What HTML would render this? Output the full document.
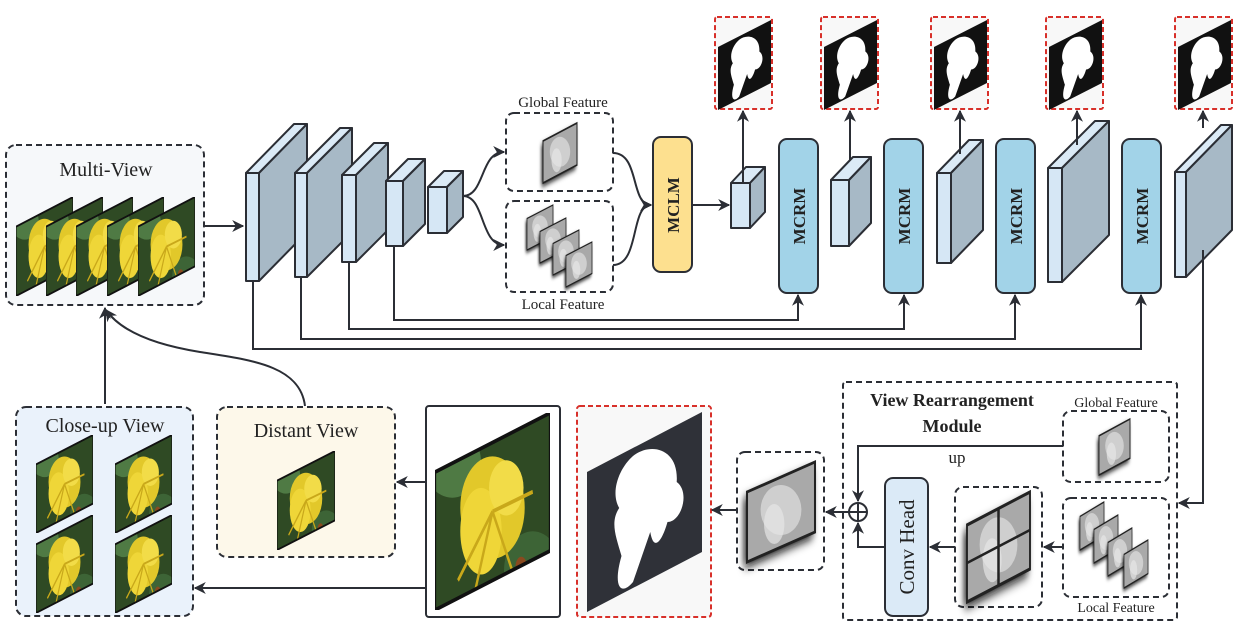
<!DOCTYPE html>
<html><head><meta charset="utf-8"><style>
html,body{margin:0;padding:0;background:#fff;}
svg{display:block;}
text{font-family:"Liberation Serif",serif;fill:#222;}
</style></head><body>
<svg width="1236" height="636" viewBox="0 0 1236 636" xmlns="http://www.w3.org/2000/svg">
<defs>
<marker id="ar" viewBox="0 0 10 10" refX="9" refY="5" markerWidth="6" markerHeight="6" orient="auto"><path d="M0,0 L10,5 L0,10 L3,5 z" fill="#2b2e35"/></marker>
<filter id="bl" x="-50%" y="-50%" width="200%" height="200%"><feGaussianBlur stdDeviation="5"/></filter>
<clipPath id="pc"><polygon points="0,30 100,0 100,70 0,100"/></clipPath>
<symbol id="photo" viewBox="0 0 100 100" preserveAspectRatio="none">
 <g clip-path="url(#pc)">
  <rect width="100" height="100" fill="#2f4a24"/>
  <ellipse cx="15" cy="25" rx="25" ry="18" fill="#4f7a44"/>
  <ellipse cx="85" cy="80" rx="25" ry="20" fill="#3d6436"/>
  <ellipse cx="50" cy="48" rx="28" ry="26" fill="#e2c82a"/>
  <ellipse cx="40" cy="60" rx="18" ry="22" fill="#efd638"/>
  <ellipse cx="62" cy="38" rx="15" ry="14" fill="#f2dc48"/>
  <path d="M50,50 L20,85 M50,50 L35,90 M50,50 L70,85 M50,50 L85,40" stroke="#c9a81a" stroke-width="2"/>
  <circle cx="75" cy="78" r="5" fill="#8a4a1f"/>
 </g>
 <polygon points="0,30 100,0 100,70 0,100" fill="none" stroke="#111" stroke-width="2"/>
</symbol>
<symbol id="mask" viewBox="0 0 100 100" preserveAspectRatio="none">
 <polygon points="0,30 100,0 100,70 0,100" fill="#111"/>
 <path d="M40,22 C55,15 80,18 78,35 C90,40 82,55 70,55 C65,65 58,70 55,60 L40,85 C30,92 22,88 30,72 C25,62 20,55 28,48 C20,40 28,28 40,22z" fill="#fff"/>
</symbol>
<symbol id="maskd" viewBox="0 0 100 100" preserveAspectRatio="none">
 <polygon points="0,30 100,0 100,70 0,100" fill="#2f3138"/>
 <path d="M40,22 C55,15 80,18 78,35 C90,40 82,55 70,55 C65,65 58,70 55,60 L40,85 C30,92 22,88 30,72 C25,62 20,55 28,48 C20,40 28,28 40,22z" fill="#fff"/>
</symbol>
<symbol id="feat" viewBox="0 0 100 100" preserveAspectRatio="none" overflow="visible">
 <polygon points="-4,36 96,6 96,76 -4,106" fill="#111" filter="url(#bl)"/>
 <polygon points="0,30 100,0 100,70 0,100" fill="#a9a9a9" stroke="#222" stroke-width="3"/>
 <ellipse cx="50" cy="48" rx="30" ry="25" fill="#d8d8d8" opacity="0.8"/>
 <ellipse cx="40" cy="62" rx="15" ry="20" fill="#e6e6e6" opacity="0.7"/>
</symbol>
</defs>

<g stroke="#2b2e35" stroke-width="2" fill="none">
<rect x="6" y="145" width="198" height="160" rx="10" fill="#f6f8fa" stroke-dasharray="6,4"/>
<rect x="16" y="407" width="177" height="209" rx="10" fill="#eaf2fb" stroke-dasharray="6,4"/>
<rect x="217" y="407" width="178" height="150" rx="10" fill="#fdf8ea" stroke-dasharray="6,4"/>
<rect x="426" y="406" width="134" height="211" rx="3" fill="#fff"/>
<rect x="577" y="406" width="134" height="211" rx="3" fill="#f8f8f8" stroke="#d8302a" stroke-dasharray="5,3"/>
<rect x="737" y="452" width="87" height="118" rx="8" fill="#fff" stroke-dasharray="6,4"/>
<rect x="843" y="382" width="334" height="238" rx="3" fill="#fff" stroke-dasharray="6,4"/>
<rect x="1063" y="411" width="106" height="71" rx="8" stroke-dasharray="6,4"/>
<rect x="1063" y="498" width="106" height="99" rx="8" stroke-dasharray="6,4"/>
<rect x="955" y="487" width="87" height="120" rx="8" stroke-dasharray="6,4"/>
<rect x="506" y="113" width="107" height="78" rx="8" stroke-dasharray="6,4"/>
<rect x="506" y="201" width="107" height="91" rx="8" stroke-dasharray="6,4"/>
<g stroke="#d8302a" stroke-dasharray="5,3" fill="#f8f8f8">
<rect x="715" y="17" width="57" height="92" rx="2"/>
<rect x="821" y="17" width="57" height="92" rx="2"/>
<rect x="931" y="17" width="57" height="92" rx="2"/>
<rect x="1046" y="17" width="57" height="92" rx="2"/>
<rect x="1175" y="17" width="57" height="92" rx="2"/>
</g>
</g>

<use href="#photo" x="16" y="197" width="57" height="99"/>
<use href="#photo" x="46" y="197" width="57" height="99"/>
<use href="#photo" x="76" y="197" width="57" height="99"/>
<use href="#photo" x="107" y="197" width="57" height="99"/>
<use href="#photo" x="138" y="197" width="57" height="99"/>
<use href="#photo" x="36" y="435" width="57" height="98"/>
<use href="#photo" x="115" y="435" width="57" height="98"/>
<use href="#photo" x="36" y="515" width="57" height="98"/>
<use href="#photo" x="115" y="515" width="57" height="98"/>
<use href="#photo" x="277" y="451" width="58" height="99"/>
<use href="#photo" x="435" y="413" width="115" height="197"/>
<use href="#maskd" x="587" y="412" width="115" height="200"/>
<use href="#mask" x="718" y="20" width="53" height="90"/>
<use href="#mask" x="824" y="20" width="53" height="90"/>
<use href="#mask" x="934" y="20" width="53" height="90"/>
<use href="#mask" x="1049" y="20" width="53" height="90"/>
<use href="#mask" x="1178" y="20" width="53" height="90"/>

<use href="#feat" x="543" y="123" width="34" height="60"/>
<use href="#feat" x="527" y="205" width="26" height="45"/>
<use href="#feat" x="540" y="218" width="26" height="45"/>
<use href="#feat" x="553" y="230" width="26" height="45"/>
<use href="#feat" x="566" y="242" width="26" height="45"/>
<use href="#feat" x="1099" y="419" width="31" height="56"/>
<use href="#feat" x="1080" y="502" width="24" height="48"/>
<use href="#feat" x="1094" y="515" width="24" height="48"/>
<use href="#feat" x="1108" y="528" width="24" height="48"/>
<use href="#feat" x="1124" y="540" width="24" height="48"/>
<use href="#feat" x="747" y="462" width="68" height="100"/>
<use href="#feat" x="967" y="492" width="63" height="110"/>
<path d="M967,563 L1030,530 M998.5,508 L998.5,586" stroke="#222" stroke-width="2.5"/>

<g stroke="#2b2e35" stroke-width="2" stroke-linejoin="round">
<polygon points="246,173 294,124 307,124 259,173" fill="#dbeaf6"/><polygon points="259,173 307,124 307,232 259,281" fill="#a7b9c6"/><rect x="246" y="173" width="13" height="108" fill="#d6e7f5"/>
<polygon points="295,173 340,128 352,128 307,173" fill="#dbeaf6"/><polygon points="307,173 352,128 352,232 307,277" fill="#a7b9c6"/><rect x="295" y="173" width="12" height="104" fill="#d6e7f5"/>
<polygon points="342,175 374,143 388,143 356,175" fill="#dbeaf6"/><polygon points="356,175 388,143 388,230 356,262" fill="#a7b9c6"/><rect x="342" y="175" width="14" height="87" fill="#d6e7f5"/>
<polygon points="386,181 408,159 425,159 403,181" fill="#dbeaf6"/><polygon points="403,181 425,159 425,224 403,246" fill="#a7b9c6"/><rect x="386" y="181" width="17" height="65" fill="#d6e7f5"/>
<polygon points="428,187 444,171 463,171 447,187" fill="#dbeaf6"/><polygon points="447,187 463,171 463,217 447,233" fill="#a7b9c6"/><rect x="428" y="187" width="19" height="46" fill="#d6e7f5"/>
<polygon points="731,183 746,167 765,167 750,183" fill="#dbeaf6"/><polygon points="750,183 765,167 765,212 750,228" fill="#a7b9c6"/><rect x="731" y="183" width="19" height="45" fill="#d6e7f5"/>
<polygon points="831,180 853,157 871,157 849,180" fill="#dbeaf6"/><polygon points="849,180 871,157 871,223 849,246" fill="#a7b9c6"/><rect x="831" y="180" width="18" height="66" fill="#d6e7f5"/>
<polygon points="937,173 969,140 983,140 951,173" fill="#dbeaf6"/><polygon points="951,173 983,140 983,230 951,263" fill="#a7b9c6"/><rect x="937" y="173" width="14" height="90" fill="#d6e7f5"/>
<polygon points="1048,168 1095,121 1109,121 1062,168" fill="#dbeaf6"/><polygon points="1062,168 1109,121 1109,235 1062,282" fill="#a7b9c6"/><rect x="1048" y="168" width="14" height="114" fill="#d6e7f5"/>
<polygon points="1175,172 1221,125 1232,125 1186,172" fill="#dbeaf6"/><polygon points="1186,172 1232,125 1232,230 1186,277" fill="#a7b9c6"/><rect x="1175" y="172" width="11" height="105" fill="#d6e7f5"/>
<rect x="653" y="137" width="39" height="135" rx="8" fill="#fde08f"/>
<rect x="779" y="139" width="39" height="154" rx="8" fill="#a2d3e8"/>
<rect x="884" y="139" width="39" height="154" rx="8" fill="#a2d3e8"/>
<rect x="996" y="139" width="39" height="154" rx="8" fill="#a2d3e8"/>
<rect x="1122" y="139" width="39" height="154" rx="8" fill="#a2d3e8"/>
<rect x="885" y="478" width="43" height="138" rx="8" fill="#dbeaf7"/>
</g>

<g stroke="#2b2e35" stroke-width="2" fill="none" marker-end="url(#ar)">
<path d="M204,226 L243,226"/>
<path d="M463,196 C485,196 480,152 504,152"/>
<path d="M463,196 C485,196 480,245 504,245"/>
<path d="M613,153 C640,153 630,205 651,205"/>
<path d="M613,265 C640,265 630,205 651,205"/>
<path d="M692,205 L729,205"/>
<path d="M743,183 L743,111"/>
<path d="M850,160 L850,111"/>
<path d="M960,154 L960,111"/>
<path d="M1077,145 L1077,111"/>
<path d="M1203,128 L1203,111"/>
<path d="M394,246 L394,320 L798,320 L798,295"/>
<path d="M349,262 L349,329 L904,329 L904,295"/>
<path d="M301,277 L301,339 L1015,339 L1015,295"/>
<path d="M253,281 L253,349 L1141,349 L1141,295"/>
<path d="M1203,250 L1203,503 L1179,503"/>
<path d="M1063,446 L858,446 L858,501"/>
<path d="M885,547 L858,547 L858,523"/>
<path d="M1063,547 L1044,547"/>
<path d="M955,547 L930,547"/>
<path d="M849,512 L826,512"/>
<path d="M737,510 L712,510"/>
<path d="M426,482 L397,482"/>
<path d="M426,588 L195,588"/>
<path d="M105,404 L105,308"/>
<path d="M305,406 C300,365 250,360 200,352 C150,344 120,330 106,310"/>
</g>
<circle cx="858" cy="512" r="9" fill="#fff" stroke="#2b2e35" stroke-width="2"/>
<path d="M849,512 L867,512 M858,503 L858,521" stroke="#2b2e35" stroke-width="2"/>

<text x="106" y="176" font-size="20" text-anchor="middle">Multi-View</text>
<text x="105" y="432" font-size="20" text-anchor="middle">Close-up View</text>
<text x="306" y="437" font-size="20" text-anchor="middle">Distant View</text>
<text x="563" y="107" font-size="15" text-anchor="middle">Global Feature</text>
<text x="563" y="309" font-size="15" text-anchor="middle">Local Feature</text>
<text x="952" y="406" font-size="18" font-weight="bold" text-anchor="middle">View Rearrangement</text>
<text x="952" y="432" font-size="18" font-weight="bold" text-anchor="middle">Module</text>
<text x="1116" y="407" font-size="14" text-anchor="middle">Global Feature</text>
<text x="1116" y="612" font-size="14" text-anchor="middle">Local Feature</text>
<text x="957" y="463" font-size="17" text-anchor="middle">up</text>
<text transform="translate(679,205) rotate(-90)" text-anchor="middle" style="font-size:17px;font-weight:bold">MCLM</text>
<text transform="translate(805,216) rotate(-90)" text-anchor="middle" style="font-size:17px;font-weight:bold">MCRM</text>
<text transform="translate(910,216) rotate(-90)" text-anchor="middle" style="font-size:17px;font-weight:bold">MCRM</text>
<text transform="translate(1022,216) rotate(-90)" text-anchor="middle" style="font-size:17px;font-weight:bold">MCRM</text>
<text transform="translate(1148,216) rotate(-90)" text-anchor="middle" style="font-size:17px;font-weight:bold">MCRM</text>
<text transform="translate(914,547) rotate(-90)" text-anchor="middle" font-size="21">Conv Head</text>
</svg>
</body></html>
